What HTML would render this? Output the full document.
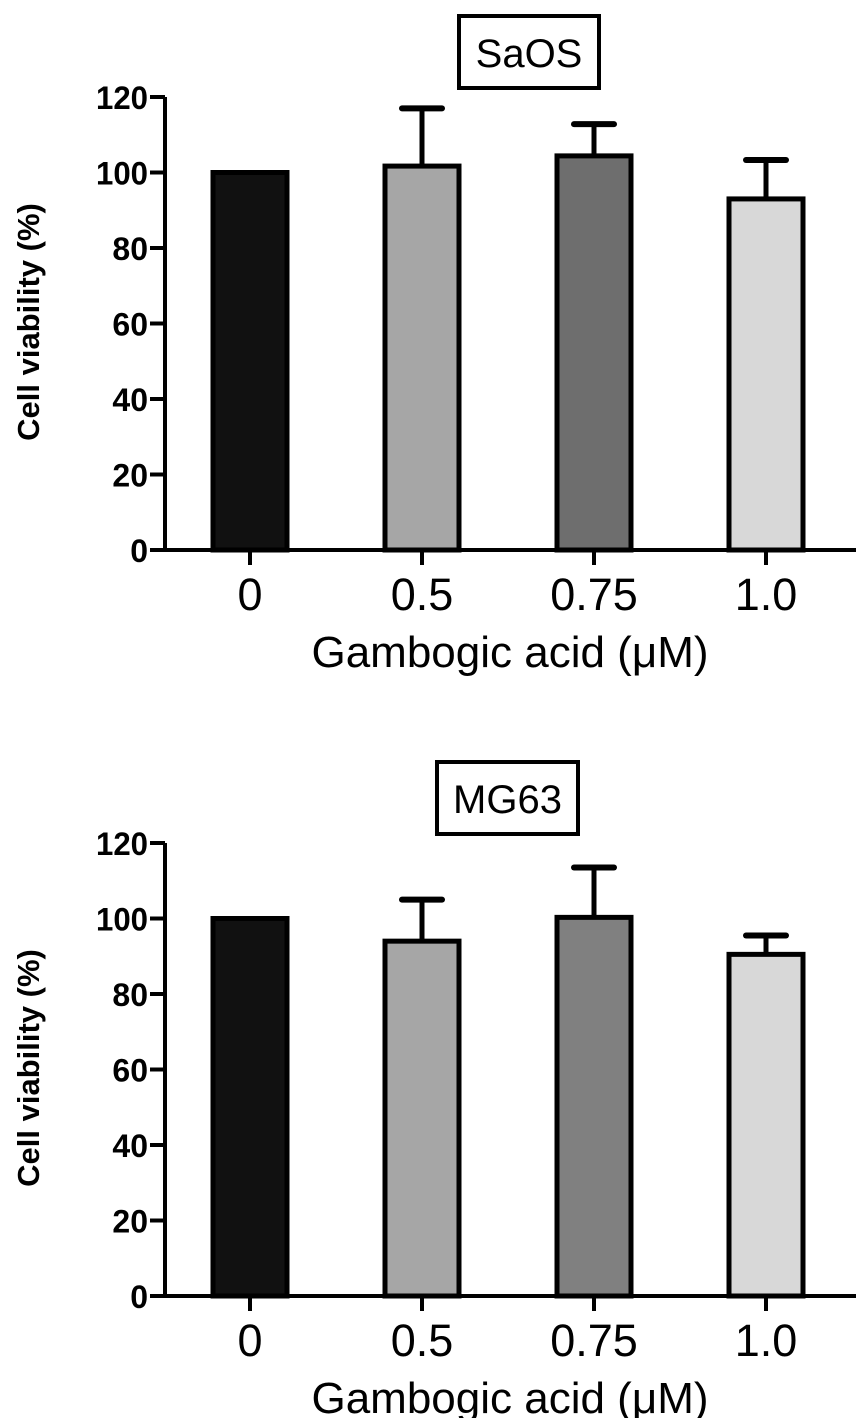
<!DOCTYPE html>
<html><head><meta charset="utf-8"><style>
html,body{margin:0;padding:0;background:#fff;}
svg{display:block;font-family:"Liberation Sans",Arial,sans-serif;}
</style></head><body>
<svg id="svg" width="867" height="1418" viewBox="0 0 867 1418"></svg>
<script>
const categories = ["0", "0.5", "0.75", "1.0"];
const saosValues = [100, 101.7, 104.4, 93];
const saosErrors = [100, 117, 112.8, 103.3];
const mg63Values = [100, 94, 100.3, 90.5];
const mg63Errors = [100, 105, 113.5, 95.5];
const yTicks = [0, 20, 40, 60, 80, 100, 120];
const saosFills = ["#111111", "#a6a6a6", "#6e6e6e", "#d8d8d8"];
const mg63Fills = ["#111111", "#a6a6a6", "#808080", "#d8d8d8"];
const NS = "http://www.w3.org/2000/svg";
const svg = document.getElementById("svg");
function mk(tag, attrs, parent) {
  const e = document.createElementNS(NS, tag);
  for (const k in attrs) e.setAttribute(k, attrs[k]);
  (parent || svg).appendChild(e);
  return e;
}
function panel(title, values, errors, fills, off, boxX, boxW, name) {
  const g = mk("g", {});
  
  
  const y = v => off + 550 - v * (453 / 120);
  const xc = i => 250 + i * 172;
  const bw = 74;
  const box = mk("rect", {x: boxX, y: off + 16, width: boxW, height: 72, fill: "#fff", stroke: "#000", "stroke-width": 4}, g);
  
  
  const t = mk("text", {x: boxX + boxW / 2, y: off + 67, "text-anchor": "middle", "font-size": 40}, g);
  t.textContent = title;
  
  
  values.forEach((v, i) => {
    const e = errors[i];
    if (e > v) {
      const l = mk("line", {x1: xc(i), x2: xc(i), y1: y(e), y2: y(v), stroke: "#000", "stroke-width": 5}, g);
      
      
      const c = mk("line", {x1: xc(i) - 20, x2: xc(i) + 20, y1: y(e), y2: y(e), stroke: "#000", "stroke-width": 6, "stroke-linecap": "round"}, g);
      
      
    }
    const r = mk("rect", {x: xc(i) - bw / 2, y: y(v), width: bw, height: y(0) - y(v), fill: fills[i], stroke: "#000", "stroke-width": 5}, g);
    
    
    const tk = mk("line", {x1: xc(i), x2: xc(i), y1: y(0), y2: y(0) + 15, stroke: "#000", "stroke-width": 4}, g);
    
    
    const lb = mk("text", {x: xc(i), y: y(0) + 60, "text-anchor": "middle", "font-size": 45}, g);
    lb.textContent = categories[i];
    
    
  });
  const ya = mk("line", {x1: 165, x2: 165, y1: y(120), y2: y(0), stroke: "#000", "stroke-width": 4}, g);
  
  
  const xa = mk("line", {x1: 150, x2: 856, y1: y(0), y2: y(0), stroke: "#000", "stroke-width": 4}, g);
  
  
  yTicks.forEach(v => {
    const tk = mk("line", {x1: 150, x2: 165, y1: y(v), y2: y(v), stroke: "#000", "stroke-width": 4}, g);
    
    
    const lb = mk("text", {x: 148, y: y(v) + 12, "text-anchor": "end", "font-size": 32, "font-weight": "bold", textLength: 52, lengthAdjust: "spacingAndGlyphs"}, g);
    if (v < 100) { lb.removeAttribute("textLength"); lb.removeAttribute("lengthAdjust"); }
    lb.textContent = v;
    
    
  });
  const yt = mk("text", {x: 0, y: 0, "text-anchor": "middle", "font-size": 31, "font-weight": "bold", transform: `translate(39,${off + 322}) rotate(-90)`}, g);
  yt.textContent = "Cell viability (%)";
  
  
  const xt = mk("text", {x: 510, y: off + 667, "text-anchor": "middle", "font-size": 44}, g);
  xt.textContent = "Gambogic acid (\u03bcM)";
  
  
}
panel("SaOS", saosValues, saosErrors, saosFills, 0, 459, 140, "saos");
panel("MG63", mg63Values, mg63Errors, mg63Fills, 746, 437, 141, "mg63");
</script>
</body></html>
